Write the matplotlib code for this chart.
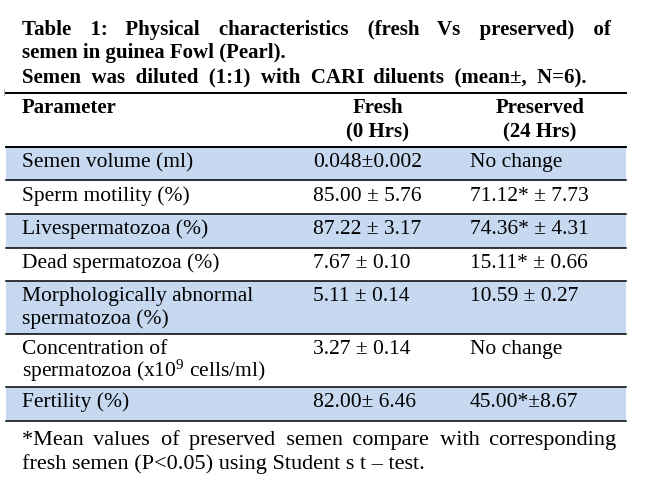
import matplotlib
matplotlib.use("Agg")
import matplotlib.pyplot as plt
from matplotlib.patches import Rectangle

plt.rcParams['font.family'] = ['Liberation Serif', 'DejaVu Serif']
plt.rcParams['mathtext.fontset'] = 'custom'
plt.rcParams['mathtext.rm'] = 'Liberation Serif'
plt.rcParams['mathtext.it'] = 'Liberation Serif:italic'
plt.rcParams['mathtext.bf'] = 'Liberation Serif:bold'

# table content
title_lines = ["Table 1: Physical characteristics (fresh Vs preserved) of",
               "semen in guinea Fowl (Pearl).",
               "Semen was diluted (1:1) with CARI diluents (mean\u00b1, N=6)."]
header_param = "Parameter"
header_fresh = ["Fresh", "(0 Hrs)"]
header_preserved = ["Preserved", "(24 Hrs)"]

parameters = [
    ["Semen volume (ml)"],
    ["Sperm motility (%)"],
    ["Livespermatozoa (%)"],
    ["Dead spermatozoa (%)"],
    ["Morphologically abnormal", "spermatozoa (%)"],
    ["Concentration of", "spermatozoa (x10$^{9}$ cells/ml)"],
    ["Fertility (%)"],
]
fresh = ["0.048\u00b10.002", "85.00 \u00b1 5.76", "87.22 \u00b1 3.17", "7.67 \u00b1 0.10",
         "5.11 \u00b1 0.14", "3.27 \u00b1 0.14", "82.00\u00b1 6.46"]
preserved = ["No change", "71.12* \u00b1 7.73", "74.36* \u00b1 4.31", "15.11* \u00b1 0.66",
             "10.59 \u00b1 0.27", "No change", "45.00*\u00b18.67"]
shaded = [True, False, True, False, True, False, True]
footnote = ["*Mean values of preserved semen compare with corresponding",
            "fresh semen (P<0.05) using Student s t \u2013 test."]

blue = "#C6D9F1"
x_left, x_right = 6, 626
x_text, x_fresh, x_pres = 22, 313, 470

fig = plt.figure(figsize=(6.64, 4.9), dpi=100)
ax = fig.add_axes([0, 0, 1, 1])
ax.set_xlim(0, 664)
ax.set_ylim(490, 0)
ax.axis('off')
r = fig.canvas.get_renderer()


def justify(text, x0, x1, y, **kw):
    # pad the word gaps with hair spaces so the line runs from x0 to x1
    t = ax.text(x0, y, text, **kw)
    w = t.get_window_extent(r).width
    t.set_text("a" + "\u200a" * 20 + "a")
    w_pad = t.get_window_extent(r).width
    t.set_text("aa")
    hair = (w_pad - t.get_window_extent(r).width) / 20
    words = text.split()
    per_gap = max(x1 - x0 - w, 0) / (len(words) - 1) / hair
    out = words[0]
    for k, word in enumerate(words[1:], 1):
        n = round(per_gap * k) - round(per_gap * (k - 1))
        out += " " + "\u200a" * n + word
    t.set_text(out)


# title
tkw = dict(fontsize=15, fontweight='bold', va='baseline')
justify(title_lines[0], x_text, 610, 35, **tkw)
ax.text(x_text, 58, title_lines[1], **tkw)
justify(title_lines[2], x_text, 587, 82, **tkw)

# header
ax.plot([x_left, x_right], [93, 93], color='black', lw=1.4)
ax.plot([4, 4], [89, 95], color='#999999', lw=0.6)
hkw = dict(fontsize=15, fontweight='bold', va='baseline')
ax.text(x_text, 113, header_param, **hkw)
ax.text(378, 113, header_fresh[0], ha='center', **hkw)
ax.text(378, 137, header_fresh[1], ha='center', **hkw)
ax.text(540, 113, header_preserved[0], ha='center', **hkw)
ax.text(540, 137, header_preserved[1], ha='center', **hkw)
ax.plot([x_left, x_right], [147, 147], color='black', lw=1.4)

# body rows
bkw = dict(fontsize=15.5, va='baseline')
top = 147
for label, f, p, s in zip(parameters, fresh, preserved, shaded):
    h = 33.5 + 19.5 * (len(label) - 1)
    if s:
        ax.add_patch(Rectangle((x_left, top), x_right - x_left, h,
                               facecolor=blue, edgecolor='none', zorder=0))
    for i, line in enumerate(label):
        ax.text(x_text, top + 20 + 23 * i, line, **bkw)
    ax.text(x_fresh, top + 20, f, **bkw)
    ax.text(x_pres, top + 20, p, **bkw)
    top += h
    ax.plot([x_left, x_right], [top, top], color='black', lw=1.1)

# footnote
fkw = dict(fontsize=16, va='baseline')
justify(footnote[0], x_text, 616, top + 24, **fkw)
ax.text(x_text, top + 48, footnote[1], **fkw)

fig.savefig("out.png", dpi=100)
